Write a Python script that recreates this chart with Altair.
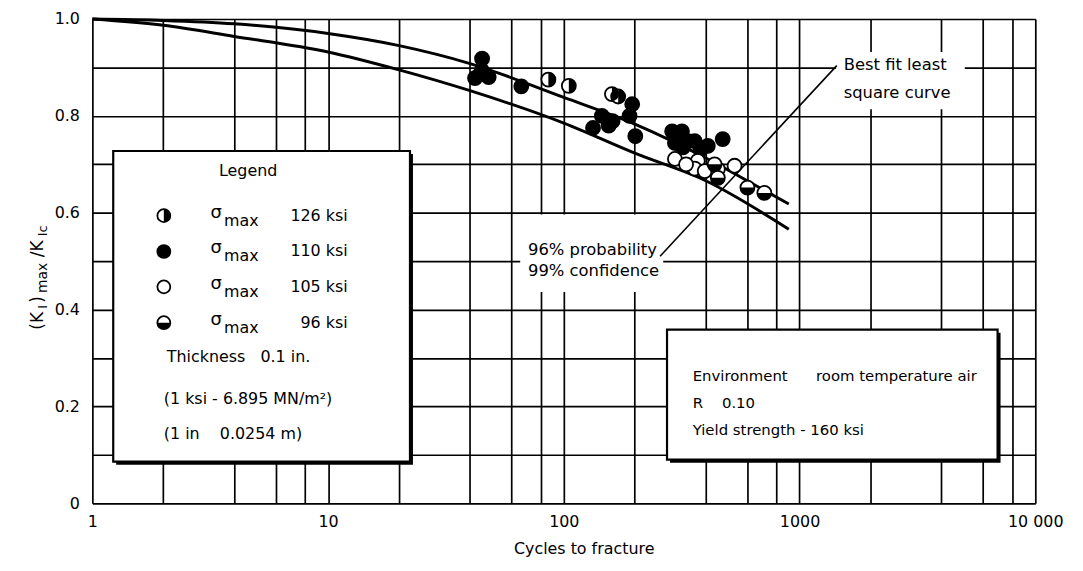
import altair as alt
import pandas as pd

# ---------------- data ----------------
# best-fit least-square curve
fit_cycles = [1, 2, 4, 10, 20, 40, 100, 200, 400, 600, 900]
fit_ratio = [1.0, 0.997, 0.99, 0.97, 0.945, 0.908, 0.838, 0.783, 0.713, 0.666, 0.618]
# 96% probability / 99% confidence curve
prob_cycles = [1, 2, 4, 10, 20, 40, 100, 200, 400, 900]
prob_ratio = [1.0, 0.987, 0.964, 0.932, 0.895, 0.852, 0.785, 0.723, 0.666, 0.566]

# test points, by maximum stress
s126_cycles = [44, 86, 105, 160, 170]
s126_ratio = [0.885, 0.875, 0.862, 0.845, 0.84]
s110_cycles = [45, 45, 42, 48, 66, 133, 145, 161, 155, 195, 201, 190,
               288, 317, 336, 296, 359, 408, 472, 320, 380]
s110_ratio = [0.918, 0.893, 0.878, 0.88, 0.861, 0.775, 0.80, 0.789, 0.78, 0.824, 0.758, 0.80,
              0.768, 0.768, 0.748, 0.744, 0.748, 0.738, 0.752, 0.735, 0.73]
s105_cycles = [296, 370, 359, 396, 530, 330, 450]
s105_ratio = [0.711, 0.707, 0.691, 0.686, 0.697, 0.70, 0.69]
s96_cycles = [436, 450, 601, 709]
s96_ratio = [0.70, 0.672, 0.652, 0.641]

legend_stress = ["126 ksi", "110 ksi", "105 ksi", "96 ksi"]
legend_kinds = ["s126", "s110", "s105", "s96"]

# axes
x_grid = [1, 2, 4, 6, 8, 10, 20, 40, 60, 80, 100, 200, 400, 600, 800,
          1000, 2000, 4000, 6000, 8000, 10000]
x_tick_values = [1, 10, 100, 1000, 10000]
x_tick_labels = ["1", "10", "100", "1000", "10 000"]
y_grid = [0, 0.1, 0.2, 0.3, 0.4, 0.5, 0.6, 0.7, 0.8, 0.9, 1.0]
y_tick_values = [0, 0.2, 0.4, 0.6, 0.8, 1.0]
y_tick_labels = ["0", "0.2", "0.4", "0.6", "0.8", "1.0"]

FONT = "DejaVu Sans"
NB = "\u00a0"

# ---------------- helpers ----------------
def x_label_expr():
    expr = "''"
    for v, l in reversed(list(zip(x_tick_values, x_tick_labels))):
        expr = f"abs(datum.value / {v} - 1) < 1e-6 ? '{l}' : ({expr})"
    return expr


def y_label_expr():
    expr = "''"
    for v, l in reversed(list(zip(y_tick_values, y_tick_labels))):
        expr = f"abs(datum.value - {v}) < 1e-6 ? '{l}' : ({expr})"
    return expr


xscale = alt.Scale(type="log", domain=[1, 10000])
yscale = alt.Scale(domain=[0, 1], nice=False, zero=False)

xaxis = alt.Axis(values=x_grid, labelExpr=x_label_expr(), grid=True, gridColor="black",
                 gridWidth=1.7, gridOpacity=1, ticks=False, domain=False,
                 labelFont=FONT, labelFontSize=16, labelColor="black", labelPadding=10,
                 labelOverlap=False, labelFlush=False, labelBound=False,
                 title="Cycles to fracture", titleFont=FONT, titleFontSize=16,
                 titleFontWeight="normal", titleColor="black", titlePadding=12, titleX=495)
yaxis = alt.Axis(values=y_grid, labelExpr=y_label_expr(), grid=True, gridColor="black",
                 gridWidth=1.7, gridOpacity=1, ticks=False, domain=False,
                 labelFont=FONT, labelFontSize=16, labelColor="black", labelPadding=13,
                 labelOverlap=False, labelFlush=False, labelBound=False, title="")


def X(f):
    return alt.X(f, type="quantitative", scale=xscale, axis=xaxis)


def Y(f):
    return alt.Y(f, type="quantitative", scale=yscale, axis=yaxis)


RIGHT_HALF = "M 0 -1 A 1 1 0 0 1 0 1 Z"
BOTTOM_HALF = "M -1 0 A 1 1 0 0 0 1 0 Z"

# ---------------- tables ----------------
curves = pd.DataFrame(
    {"cycles": fit_cycles + prob_cycles,
     "ratio": fit_ratio + prob_ratio,
     "curve": ["fit"] * len(fit_cycles) + ["prob"] * len(prob_cycles)})

pts = pd.concat([
    pd.DataFrame({"cycles": s126_cycles, "ratio": s126_ratio, "kind": "s126"}),
    pd.DataFrame({"cycles": s110_cycles, "ratio": s110_ratio, "kind": "s110"}),
    pd.DataFrame({"cycles": s105_cycles, "ratio": s105_ratio, "kind": "s105"}),
    pd.DataFrame({"cycles": s96_cycles, "ratio": s96_ratio, "kind": "s96"}),
], ignore_index=True)

# annotation boxes (data coordinates)
boxes = pd.DataFrame({
    "cycles": [1.226, 274], "cycles2": [22.25, 6918],
    "ratio": [0.7275, 0.3586], "ratio2": [0.0861, 0.0902]})
white_boxes = pd.DataFrame({
    "cycles": [1425, 65.3], "cycles2": [5024, 264],
    "ratio": [0.932, 0.5963], "ratio2": [0.8135, 0.4365]})
leader = pd.DataFrame({"cycles": [256, 1438], "ratio": [0.5102, 0.9037]})

legend_rows = [0.594, 0.520, 0.447, 0.373]
leg_marks = pd.DataFrame({"cycles": [2.01] * 4, "ratio": legend_rows, "kind": legend_kinds})
leg_sigma = pd.DataFrame({"cycles": [3.17] * 4, "ratio": legend_rows, "t": ["\u03c3"] * 4})
leg_max = pd.DataFrame({"cycles": [3.62] * 4, "ratio": legend_rows, "t": ["max"] * 4})
leg_val = pd.DataFrame({"cycles": [12.1] * 4, "ratio": legend_rows, "t": legend_stress})
leg_title = pd.DataFrame({"cycles": [4.58], "ratio": [0.6865], "t": ["Legend"]})
leg_notes = pd.DataFrame({
    "cycles": [2.07, 2.01, 2.01],
    "ratio": [0.303, 0.215, 0.1435],
    "t": [f"Thickness{NB*3}0.1 in.", "(1 ksi - 6.895 MN/m\u00b2)", f"(1 in{NB*4}0.0254 m)"]})
env_notes = pd.DataFrame({
    "cycles": [352] * 3,
    "ratio": [0.2623, 0.2070, 0.1516],
    "t": [f"Environment{NB*6}room temperature air", f"R{NB*4}0.10", "Yield strength - 160 ksi"]})
curve_notes = pd.DataFrame({
    "cycles": [1539, 1539, 70.5, 70.5],
    "ratio": [0.9057, 0.8463, 0.5225, 0.4795],
    "t": ["Best fit least", "square curve", "96% probability", "99% confidence"]})

# ---------------- layers ----------------
shadow = alt.Chart(boxes).mark_rect(color="black", xOffset=3, x2Offset=3, yOffset=3, y2Offset=3).encode(
    x=X("cycles"), x2="cycles2", y=Y("ratio"), y2="ratio2")
box = alt.Chart(boxes).mark_rect(fill="white", stroke="black", strokeWidth=2.2).encode(
    x=X("cycles"), x2="cycles2", y=Y("ratio"), y2="ratio2")
wbox = alt.Chart(white_boxes).mark_rect(fill="white").encode(
    x=X("cycles"), x2="cycles2", y=Y("ratio"), y2="ratio2")

lines = alt.Chart(curves).mark_line(color="black", strokeWidth=3, interpolate="monotone").encode(
    x=X("cycles"), y=Y("ratio"), detail="curve:N")
lead = alt.Chart(leader).mark_line(color="black", strokeWidth=1.6).encode(
    x=X("cycles"), y=Y("ratio"))

fill_scale = alt.Scale(domain=legend_kinds, range=["white", "black", "white", "white"])


def marker_layers(df, size):
    base = alt.Chart(df).mark_point(shape="circle", filled=True, size=size, stroke="black",
                                    strokeWidth=1.8, opacity=1).encode(
        x=X("cycles"), y=Y("ratio"), fill=alt.Fill("kind:N", scale=fill_scale, legend=None))
    right = alt.Chart(df).transform_filter(alt.datum.kind == "s126").mark_point(
        shape=RIGHT_HALF, filled=True, size=size, color="black", opacity=1, strokeWidth=0).encode(
        x=X("cycles"), y=Y("ratio"))
    bottom = alt.Chart(df).transform_filter(alt.datum.kind == "s96").mark_point(
        shape=BOTTOM_HALF, filled=True, size=size, color="black", opacity=1, strokeWidth=0).encode(
        x=X("cycles"), y=Y("ratio"))
    return [base, right, bottom]


def text_layer(df, size, align="left", dy=0):
    return alt.Chart(df).mark_text(font=FONT, fontSize=size, align=align, baseline="middle",
                                   color="black", dy=dy).encode(
        x=X("cycles"), y=Y("ratio"), text="t:N")


texts = [
    text_layer(leg_title, 16, "center"),
    text_layer(leg_sigma, 18, "left", -3),
    text_layer(leg_max, 16, "left", 5),
    text_layer(leg_val, 16, "right"),
    text_layer(leg_notes, 16, "left"),
    text_layer(env_notes, 15, "left"),
    text_layer(curve_notes, 16.5, "left"),
]

# y-axis title (K_I)max / K_Ic, composed of rotated pieces
ytitle_parts = [("(K", 313, 17, -50), ("I", 292, 13, -46), (")", 286, 17, -50),
                ("max", 276, 14, -46), ("/K", 240, 17, -50), ("Ic", 219, 13, -46)]
ytitle = [alt.Chart(pd.DataFrame({"t": [t]})).mark_text(
    font=FONT, fontSize=fs, angle=270, align="left", baseline="alphabetic", color="black").encode(
    x=alt.value(px), y=alt.value(py), text="t:N") for t, py, fs, px in ytitle_parts]

layers = [shadow, box, wbox, lines, lead] + marker_layers(pts, 200) + \
    marker_layers(leg_marks, 170) + texts + ytitle

chart = alt.layer(*layers).properties(
    width=950, height=488,
    padding={"left": 85, "top": 9, "right": 40, "bottom": 58},
    autosize=alt.AutoSizeParams(type="none"),
).configure_view(stroke="black", strokeWidth=3).configure(background="white")

chart.save("out.html", embed_options={"renderer": "svg", "actions": False})
